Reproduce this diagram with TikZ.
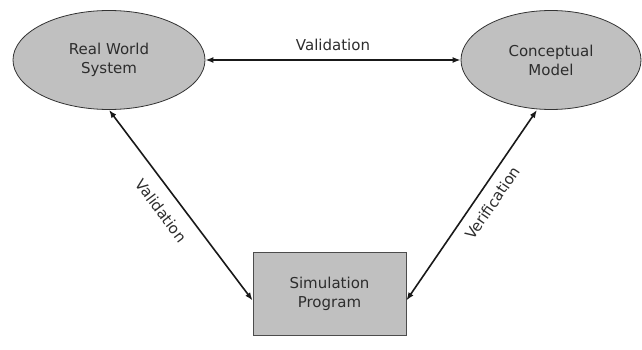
\documentclass[tikz,border=0pt]{standalone}
\usepackage{fontspec}
\setmainfont{DejaVu Sans}
\usetikzlibrary{arrows.meta,shapes.geometric}
\definecolor{boxgray}{RGB}{192,192,192}
\definecolor{textgray}{RGB}{45,45,45}
\tikzset{
  blob/.style={ellipse, draw=black!80, line width=0.8pt, fill=boxgray,
    minimum width=192pt, minimum height=99pt, align=center,
    text=textgray, font=\fontsize{15}{19}\selectfont},
  progbox/.style={rectangle, draw=black!70, line width=0.8pt, fill=boxgray,
    minimum width=153pt, minimum height=83pt, align=center,
    text=textgray, font=\fontsize{15}{19}\selectfont},
  link/.style={{Latex[length=8pt,width=6pt]}-{Latex[length=8pt,width=6pt]}, line width=1.6pt, black!90},
  linklabel/.style={text=textgray, font=\fontsize{15}{19}\selectfont}
}
\begin{document}
\begin{tikzpicture}[x=1pt,y=-1pt]
  \useasboundingbox (0,0) rectangle (642,350);
  \node[blob] (real) at (109,60) {Real World\\System};
  \node[blob, minimum width=180pt] (concept) at (551,60) {Conceptual\\Model};
  \node[progbox] (sim) at (329.5,293.5) {Simulation\\Program};
  \begin{scope}[link]
    \draw (real.east) -- (concept.west)
      node[linklabel, midway, above=5pt] {Validation};
    \draw (real.south) -- ([yshift=-7pt]sim.west)
      node[linklabel, pos=0.47, sloped, below=9pt] {Validation};
    \draw ([yshift=-7pt]sim.east) -- ([xshift=-14pt]concept.south)
      node[linklabel, pos=0.56, sloped, below=6pt] {Verification};
  \end{scope}
\end{tikzpicture}
\end{document}
